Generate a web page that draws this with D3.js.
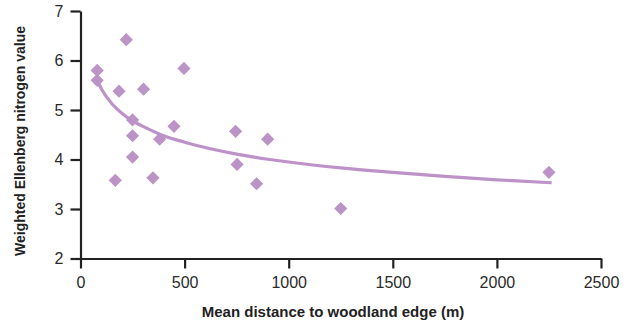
<!DOCTYPE html>
<html>
<head>
<meta charset="utf-8">
<script src="https://cdn.jsdelivr.net/npm/d3@7"></script>
<style>
  html, body { margin: 0; padding: 0; background: #fff; }
  svg { display: block; }
  text { font-family: "Liberation Sans", Arial, Helvetica, sans-serif; }
</style>
</head>
<body>
<svg id="chart" width="628" height="325"></svg>
<script>
// Data
const distance = [80, 80, 220, 185, 303, 497, 250, 250, 380, 449, 745, 899, 250, 167, 348, 752, 846, 1250, 2250];
const nitrogen = [5.8, 5.6, 6.42, 5.38, 5.42, 5.84, 4.8, 4.48, 4.41, 4.67, 4.57, 4.41, 4.05, 3.58, 3.63, 3.9, 3.51, 3.01, 3.74];

// Trend line
const trendX = [80, 100, 150, 200, 250, 300, 400, 500, 750, 1000, 1250, 1500, 1750, 2000, 2263];
const trendY = [5.6, 5.43, 5.13, 4.93, 4.78, 4.67, 4.48, 4.35, 4.11, 3.95, 3.83, 3.74, 3.66, 3.59, 3.53];

const xTicks = [0, 500, 1000, 1500, 2000, 2500];
const yTicks = [2, 3, 4, 5, 6, 7];

const xTitle = "Mean distance to woodland edge (m)";
const yTitle = "Weighted Ellenberg nitrogen value";

const purple = "#bc93c6";
const lineColor = "#bd92c8";

const svg = d3.select("#chart");

const x = d3.scaleLinear().domain([0, 2500]).range([80.5, 601]);
const y = d3.scaleLinear().domain([2, 7]).range([258.5, 11]);

// Axes
const xAxis = d3.axisBottom(x).tickValues(xTicks).tickFormat(d3.format("d"))
  .tickSize(10).tickPadding(8).tickSizeOuter(0);
const yAxis = d3.axisLeft(y).tickValues(yTicks).tickFormat(d3.format("d"))
  .tickSize(10).tickPadding(7).tickSizeOuter(0);

const gx = svg.append("g").attr("transform", `translate(0,${y(2)})`).call(xAxis);
const gy = svg.append("g").attr("transform", `translate(${x(0)},0)`).call(yAxis);

[gx, gy].forEach(g => {
  g.select(".domain").attr("stroke", "#222").attr("stroke-width", 2.2);
  g.selectAll(".tick line").attr("stroke", "#222").attr("stroke-width", 2.2);
  g.selectAll(".tick text").attr("fill", "#2a2a2a").style("font-size", "16px")
    .style("font-family", '"Liberation Sans", Arial, sans-serif');
});

// Trend line
const trend = trendX.map((d, i) => [d, trendY[i]]);
svg.append("path")
  .datum(trend)
  .attr("fill", "none")
  .attr("stroke", lineColor)
  .attr("stroke-width", 3.2)
  .attr("d", d3.line().x(d => x(d[0])).y(d => y(d[1])).curve(d3.curveMonotoneX));

// Diamonds
const pts = distance.map((d, i) => [d, nitrogen[i]]);
svg.append("g").selectAll("path")
  .data(pts)
  .join("path")
  .attr("transform", d => `translate(${x(d[0])},${y(d[1])})`)
  .attr("d", "M0,-6.6L6.6,0L0,6.6L-6.6,0Z")
  .attr("fill", purple);

// Titles
svg.append("text")
  .attr("x", 333)
  .attr("y", 317)
  .attr("text-anchor", "middle")
  .attr("fill", "#222")
  .style("font-size", "15px")
  .style("font-weight", "bold")
  .text(xTitle);

svg.append("text")
  .attr("transform", `translate(25,141) rotate(-90)`)
  .attr("text-anchor", "middle")
  .attr("fill", "#222")
  .style("font-size", "14px")
  .style("font-weight", "bold")
  .text(yTitle);
</script>
</body>
</html>
